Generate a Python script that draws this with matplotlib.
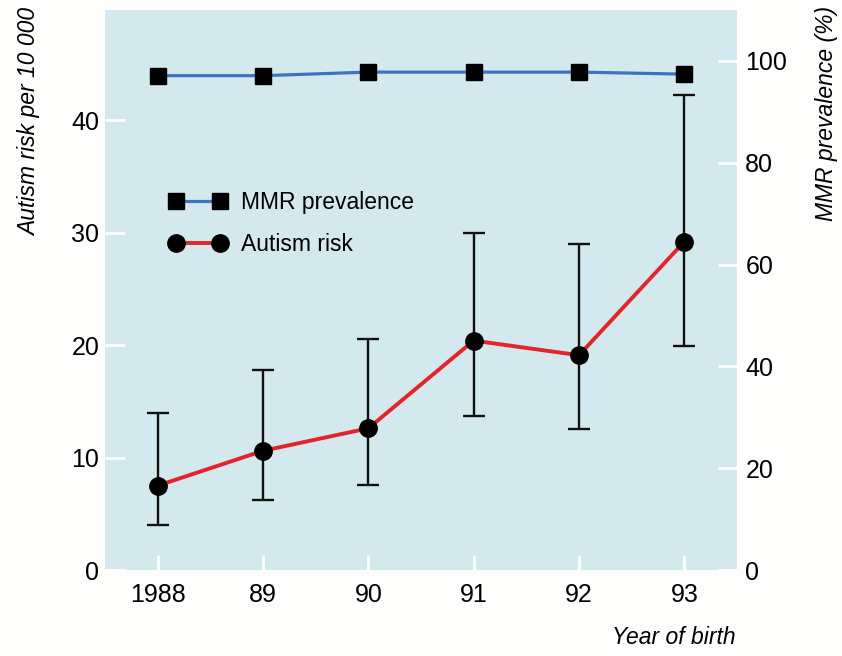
import matplotlib
matplotlib.use("Agg")
import matplotlib.pyplot as plt
from matplotlib.lines import Line2D

plt.rcParams['font.family'] = ['Liberation Sans Narrow', 'Liberation Sans', 'DejaVu Sans']

# data
years = ["1988", "89", "90", "91", "92", "93"]
autism_risk = [7.5, 10.6, 12.6, 20.4, 19.1, 29.2]
autism_low = [4.0, 6.2, 7.6, 13.7, 12.5, 19.9]
autism_high = [14.0, 17.8, 20.5, 30.0, 29.0, 42.2]
mmr_prev = [97.1, 97.1, 97.8, 97.8, 97.8, 97.4]

bg = "#d3e9ee"
red = "#e3242b"
blue = "#3f72c0"

fig = plt.figure(figsize=(8.42, 6.56), dpi=100, facecolor="#fdfdfb")
ax = fig.add_axes([105/842, 86/656, 632/842, 560/656])
ax.set_facecolor(bg)
ax2 = ax.twinx()

x = list(range(len(years)))
yerr = [[r - lo for r, lo in zip(autism_risk, autism_low)],
        [hi - r for r, hi in zip(autism_risk, autism_high)]]
ax.errorbar(x, autism_risk, yerr=yerr, fmt='none', ecolor='#111111',
            elinewidth=1.7, capsize=8, capthick=1.7, zorder=2)
ax.plot(x, autism_risk, color=red, lw=2.8, zorder=3)
ax.plot(x, autism_risk, 'o', color='black', ms=12.5, zorder=4)

ax2.plot(x, mmr_prev, color=blue, lw=2.3, marker='s', ms=11,
         mfc='black', mec='black', zorder=3)

ax.set_xlim(-0.5, 5.5)
ax.set_ylim(0, 49.8)
ax2.set_ylim(0, 110)
ax.set_xticks(x)
ax.set_xticklabels(years)
ax.set_yticks([0, 10, 20, 30, 40])
ax2.set_yticks([0, 20, 40, 60, 80, 100])

for a in (ax, ax2):
    for s in a.spines.values():
        s.set_visible(False)
ax.tick_params(axis='y', direction='in', length=14.5, width=2, color='white',
               labelsize=18, pad=4)
ax.tick_params(axis='x', direction='in', length=11, width=2, color='white',
               labelsize=18, pad=9)
ax2.tick_params(axis='y', direction='in', length=14, width=2, color='white',
                labelsize=18, pad=6)

handles = [Line2D([], [], color=blue, lw=2.3, marker='s', ms=11, mfc='black', mec='black'),
           Line2D([], [], color=red, lw=2.8, marker='o', ms=12.5, mfc='black', mec='black')]
ax.legend(handles, ["MMR prevalence", "Autism risk"], loc='upper left',
          bbox_to_anchor=(0.102, 0.677), frameon=False, fontsize=16.5, numpoints=2,
          handlelength=2.5, handletextpad=0.6, labelspacing=0.85,
          borderpad=0, borderaxespad=0)

fig.text(30/842, 1 - 8/656, "Autism risk per 10 000", rotation=90, ha='center',
         va='top', fontsize=16.5, style='italic')
fig.text(826/842, 1 - 6/656, "MMR prevalence (%)", rotation=90, ha='center',
         va='top', fontsize=16.5, style='italic')
fig.text(736/842, 1 - 638/656, "Year of birth", ha='right', va='center',
         fontsize=16.5, style='italic')

fig.savefig("out.png", dpi=100, facecolor=fig.get_facecolor())
